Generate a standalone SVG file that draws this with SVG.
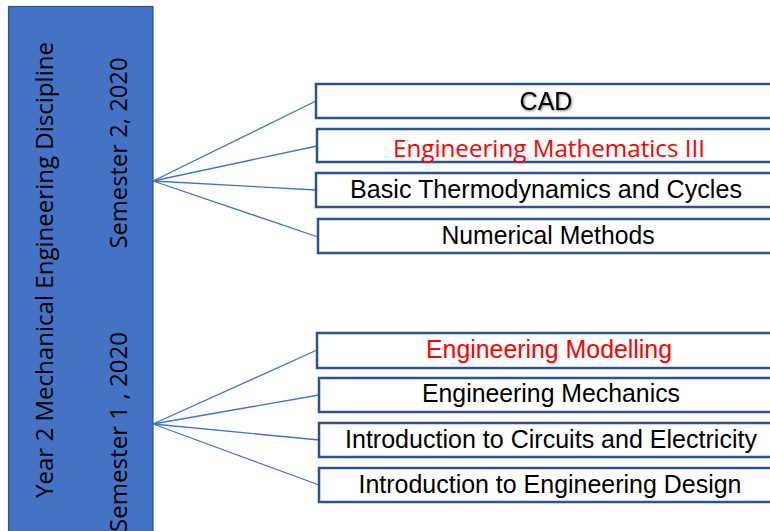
<svg xmlns="http://www.w3.org/2000/svg" width="770" height="531" viewBox="0 0 770 531">
<defs>
<style>
.box{fill:#ffffff;stroke:#2F528F;stroke-width:2.5}
.lbl{font-family:"Liberation Sans",Arial,sans-serif;font-size:25px;fill:#000;text-anchor:middle}
.red{fill:#FF0000}
.cal{font-family:"Open Sans","Noto Sans",sans-serif;font-size:24px}
.conn{stroke:#4472C4;stroke-width:1.3;fill:none}
.side{font-family:"Open Sans","Noto Sans",sans-serif;font-size:24px;fill:#000;text-anchor:middle}
</style>
<filter id="glow" x="-20%" y="-40%" width="140%" height="180%">
<feGaussianBlur in="SourceAlpha" stdDeviation="1.2"/>
<feOffset dx="1" dy="1" result="b"/>
<feComponentTransfer><feFuncA type="linear" slope="0.5"/></feComponentTransfer>
<feMerge><feMergeNode/><feMergeNode in="SourceGraphic"/></feMerge>
</filter>
</defs>
<rect width="770" height="531" fill="#ffffff"/>
<g id="discipline">
<rect x="8.5" y="6.5" width="144.5" height="530" fill="#4472C4" stroke="#2F528F" stroke-width="1.2"/>
<text class="side" transform="translate(53,270) rotate(-90)" textLength="456" lengthAdjust="spacingAndGlyphs">Year 2 Mechanical Engineering Discipline</text>
<text class="side" transform="translate(127,153) rotate(-90)" textLength="191" lengthAdjust="spacingAndGlyphs">Semester 2, 2020</text>
<text class="side" transform="translate(127,432) rotate(-90)" textLength="200" lengthAdjust="spacingAndGlyphs">Semester 1 , 2020</text>
</g>
<g id="connectors">
<line class="conn" x1="153" y1="181" x2="316" y2="101"/>
<line class="conn" x1="153" y1="181" x2="317" y2="146"/>
<line class="conn" x1="153" y1="181" x2="316" y2="190"/>
<line class="conn" x1="153" y1="181" x2="318" y2="237"/>
<line class="conn" x1="153" y1="424" x2="317" y2="350"/>
<line class="conn" x1="153" y1="424" x2="319" y2="395"/>
<line class="conn" x1="153" y1="424" x2="319" y2="440"/>
<line class="conn" x1="153" y1="424" x2="319" y2="485"/>
</g>
<g id="cad">
<rect class="box" x="316" y="84" width="470" height="34"/>
<text class="lbl" x="546" y="110" filter="url(#glow)">CAD</text>
</g>
<g id="eng-math">
<rect class="box" x="317" y="129" width="470" height="33"/>
<text class="lbl cal red" x="549" y="157" textLength="312" lengthAdjust="spacingAndGlyphs">Engineering Mathematics III</text>
</g>
<g id="thermo">
<rect class="box" x="316" y="173" width="470" height="34"/>
<text class="lbl" x="546" y="198" textLength="392" lengthAdjust="spacingAndGlyphs">Basic Thermodynamics and Cycles</text>
</g>
<g id="numerical">
<rect class="box" x="318" y="219" width="470" height="34"/>
<text class="lbl" x="548" y="244" textLength="213" lengthAdjust="spacingAndGlyphs">Numerical Methods</text>
</g>
<g id="modelling">
<rect class="box" x="317" y="333" width="470" height="35"/>
<text class="lbl red" x="549" y="358" textLength="246" lengthAdjust="spacingAndGlyphs">Engineering Modelling</text>
</g>
<g id="mechanics">
<rect class="box" x="319" y="378" width="470" height="34"/>
<text class="lbl" x="551" y="402" textLength="258" lengthAdjust="spacingAndGlyphs">Engineering Mechanics</text>
</g>
<g id="circuits">
<rect class="box" x="319" y="423" width="470" height="34"/>
<text class="lbl" x="551" y="448" textLength="412" lengthAdjust="spacingAndGlyphs">Introduction to Circuits and Electricity</text>
</g>
<g id="design">
<rect class="box" x="319" y="468" width="470" height="34"/>
<text class="lbl" x="550" y="493" textLength="383" lengthAdjust="spacingAndGlyphs">Introduction to Engineering Design</text>
</g>
</svg>
